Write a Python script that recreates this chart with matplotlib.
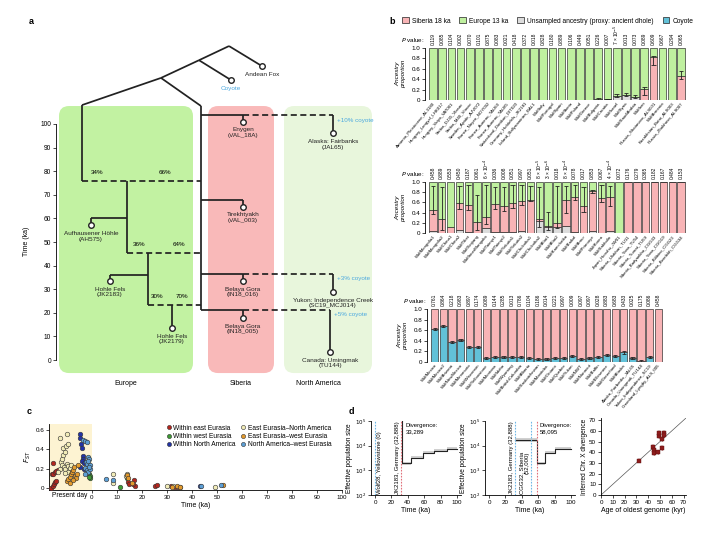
import matplotlib
matplotlib.use('Agg')
import matplotlib.pyplot as plt
import numpy as np
from matplotlib.patches import FancyBboxPatch, Patch
from matplotlib.lines import Line2D

plt.rcParams['font.family'] = ['Liberation Sans', 'DejaVu Sans']
plt.rcParams['font.size'] = 4.5
plt.rcParams['axes.linewidth'] = 0.6
plt.rcParams['xtick.major.width'] = 0.5
plt.rcParams['ytick.major.width'] = 0.5
plt.rcParams['xtick.major.size'] = 2
plt.rcParams['ytick.major.size'] = 2
plt.rcParams['xtick.major.pad'] = 1.5
plt.rcParams['ytick.major.pad'] = 1.5

W, H = 706, 534

GREEN = '#bff09f'
PINK = '#f8b4b6'
GREY = '#dcdcdc'
COY = '#62c1d8'
NA_BG = '#e8f6dc'
INK = '#222222'
BLUE_TXT = '#4aa8df'

# ---------------- panel a: tree ----------------
tip_labels = ['Andean Fox', 'Coyote', 'Aufhausener Höhle\n(AH575)', 'Hohle Fels\n(JK2183)',
              'Hohle Fels\n(JK2179)', 'Enygen\n(VAL_18A)', 'Tirekhtyakh\n(VAL_003)',
              'Belaya Gora\n(IN18_016)', 'Belaya Gora\n(IN18_005)', 'Alaska: Fairbanks\n(JAL65)',
              'Yukon: Independence Creek\n(SC19_MCJ014)', 'Canada: Umingmak\n(TU144)']
tip_x = [262, 231, 91, 110, 172, 243, 243, 243, 243, 333, 333, 330]
tip_t = [124.5, 118.6, 57, 33.5, 13.5, 101, 65, 33.5, 17.8, 96, 28.8, 3.4]

# internal nodes (column, time in ka)
root = (229, 133)
n_coy = (199, 127)
n_wolf = (161, 119.5)
n_eu = (82, 108)
n_sib = (201, 107.6)
eu_admix_t = [76, 45.3, 23.3]          # dashed admixture events into Europe
eu_admix_x = [82, 127, 148]
eu_split_t = [60, 36]                  # side branches to AH575 / JK2183
sib_branch_t = [104, 67.8, 36.4, 21.2]  # Siberian branch points
na_from = [0, 2, 3]                    # which Siberian branch goes to N. America
na_tip = [9, 10, 11]
admix_pct = [('34%', '66%'), ('36%', '64%'), ('30%', '70%')]
coyote_pct = ['+10% coyote', '+3% coyote', '+5% coyote']
region_names = ['Europe', 'Siberia', 'North America']
region_x = [(59, 193), (208, 274), (284, 372)]
region_col = ['#c2f2a2', '#f9b9b9', NA_BG]


def px_axes(l, t, r, b):
    return fig.add_axes([l / W, 1 - b / H, (r - l) / W, (b - t) / H])


fig = plt.figure(figsize=(W / 100, H / 100), dpi=100)

ax = px_axes(40, 30, 380, 395)
ax.set_xlim(40, 380)
ax.set_ylim(-14.8, 139.8)
for (x0, x1), col in zip(region_x, region_col):
    ax.add_patch(FancyBboxPatch((x0, -5.5), x1 - x0, 113.1,
                                boxstyle='round,pad=0,rounding_size=10',
                                mutation_aspect=1 / 2.36, fc=col, ec='none', zorder=0))
for name, (x0, x1) in zip(region_names, region_x):
    ax.text((x0 + x1) / 2 + (0 if name != 'North America' else -10), -10, name,
            ha='center', va='center', fontsize=5)


def seg(p0, p1, dashed=False):
    ax.plot([p0[0], p1[0]], [p0[1], p1[1]], color=INK, lw=1.25,
            ls=(0, (3.5, 2)) if dashed else '-', solid_capstyle='butt', zorder=3)


seg(root, (tip_x[0], tip_t[0]))
seg(root, n_coy)
seg(n_coy, (tip_x[1], tip_t[1]))
seg(n_coy, n_wolf)
seg(n_wolf, n_eu)
seg(n_wolf, n_sib)
# European backbone
seg(n_eu, (n_eu[0], eu_admix_t[0]))
seg((n_sib[0], n_sib[1]), (n_sib[0], sib_branch_t[-1]))
for i in range(3):
    seg((eu_admix_x[i], eu_admix_t[i]), (n_sib[0], eu_admix_t[i]), dashed=True)
    pa, pb = admix_pct[i]
    ax.text(eu_admix_x[i] + 15 - 3 * i, eu_admix_t[i] + 2.8, pa, ha='center', fontsize=4.5)
    ax.text((eu_admix_x[i] + n_sib[0]) / 2 + 23 - 8 * i, eu_admix_t[i] + 2.8, pb,
            ha='center', fontsize=4.5)
seg((eu_admix_x[1], eu_admix_t[0]), (eu_admix_x[1], eu_admix_t[1]))
seg((eu_admix_x[2], eu_admix_t[1]), (eu_admix_x[2], eu_admix_t[2]))
seg((172, eu_admix_t[2]), (tip_x[4], tip_t[4]))
for bt, side, tipi in zip(eu_split_t, [eu_admix_x[1], eu_admix_x[2]], [2, 3]):
    seg((side, bt), (tip_x[tipi], bt))
    seg((tip_x[tipi], bt), (tip_x[tipi], tip_t[tipi]))
# Siberian branches
sib_tips = [5, 6, 7, 8]
for bt, tipi in zip(sib_branch_t, sib_tips):
    seg((n_sib[0], bt), (tip_x[tipi], bt))
    seg((tip_x[tipi], bt), (tip_x[tipi], tip_t[tipi]))
for k, (bi, ti) in enumerate(zip(na_from, na_tip)):
    bt = sib_branch_t[bi]
    seg((tip_x[sib_tips[bi]], bt), (tip_x[ti], bt), dashed=True)
    seg((tip_x[ti], bt), (tip_x[ti], tip_t[ti]))
    ax.text(tip_x[ti] + 4, bt - 2.5 if k == 0 else bt - 2, coyote_pct[k], color=BLUE_TXT,
            fontsize=4.5, va='center', ha='left')

ax.plot(tip_x, tip_t, 'o', ms=4, mfc='white', mec=INK, mew=1.0, zorder=5)
for i, (lab, x, t) in enumerate(zip(tip_labels, tip_x, tip_t)):
    ax.text(x, t - 2.4, lab, ha='center', va='top', fontsize=4.6, linespacing=1.15,
            color=BLUE_TXT if lab == 'Coyote' else INK, zorder=6)

ax.spines['left'].set_position(('data', 56))
ax.spines['left'].set_bounds(0, 100)
for s in ['top', 'right', 'bottom']:
    ax.spines[s].set_visible(False)
ax.set_xticks([])
ax.set_yticks(range(0, 101, 10))
ax.tick_params(axis='y', labelsize=4.8)
ax.set_ylabel('Time (ka)', fontsize=5)
ax.yaxis.set_label_coords(-0.03, 0.42)
fig.text(29 / W, 1 - 22 / H, 'a', fontsize=6.5, fontweight='bold', va='center')

# ---------------- panel b: ancestry bars ----------------
b1_names = ['Armenia_Pleistocene_AL3180', 'Hungary_Lengyel_LHK017', 'Hungary_Vatya_VAT001',
            'Serbia_DJ35_Vlasac', 'Serbia_M40_Vlasac', 'Sweden_Ajvide_AJV072',
            'France_Noyen_NOY002', 'France_Auneau_TAU60', 'France_Auneau_TAU85',
            'Switzerland_Dietikon_DIT020', 'Germany_Hohlefels_JK2181', 'Ireland_Ballynamintra_BAL1',
            'WolfItaly', 'WolfPortugal', 'WolfSpain', 'WolfIberia', 'WolfPoland', 'WolfGreece',
            'WolfBulgaria', 'WolfCroatia', 'WolfIsrael', 'WolfSyria', 'WolfSaudiArabia', 'WolfIran',
            'Russia_Shatanovo_ALS001', 'WolfArmenia', 'Kazakhstan_Botai_ALS003',
            'Russia_Zhokhovo_ALS007']
b1_sib = [0] * 23 + [0.22, 0.82, 0, 0, 0.47]
b1_uns = [0] * 18 + [0.02, 0.01, 0.08, 0.10, 0.06, 0, 0, 0, 0, 0]
b1_lo = [np.nan] * 18 + [0.0, 0.0, 0.05, 0.07, 0.03, 0.10, 0.68, np.nan, np.nan, 0.40]
b1_hi = [np.nan] * 18 + [0.04, 0.02, 0.12, 0.14, 0.09, 0.25, 0.85, np.nan, np.nan, 0.56]
b1_p = ['0.119', '0.085', '0.104', '0.002', '0.070', '0.101', '0.875', '0.083', '0.021',
        '0.418', '0.372', '0.018', '0.828', '0.180', '0.889', '0.106', '0.449', '0.051',
        '0.226', '0.007', '7 × 10$^{-5}$', '0.013', '0.073', '0.089', '0.609', '0.667',
        '0.294', '0.065']

b2_names = ['WolfMongolia1', 'WolfMongolia2', 'WolfChina1', 'WolfChina2', 'WolfTibet',
            'WolfXinjiang', 'WolfInnerMongolia', 'WolfTaimyr1', 'WolfTaimyr2', 'WolfYakutia1',
            'WolfYakutia2', 'WolfChukotka1', 'WolfChukotka2', 'WolfAltai1', 'WolfAltai2',
            'WolfKamchatka', 'WolfBaikal', 'WolfAmur', 'WolfPrimorye', 'WolfKorea', 'WolfSakhalin',
            'Japan_Honshu_JW01', 'Siberia_Ulakhan_TU11', 'Siberia_Yana_TU54', 'Siberia_Tumat_TU59',
            'Siberia_Badyarikha_CGG33', 'Siberia_Yana_CGG19', 'Siberia_Bilibino_CGG23',
            'Siberia_Berelekh_CGG34']
b2_uns = [0.03, 0, 0, 0.05, 0.02, 0, 0.10, 0.01, 0.01, 0.02, 0.04, 0, 0.23, 0.12, 0.12,
          0.14, 0.02, 0, 0.04, 0, 0.04, 0, 0, 0, 0, 0, 0, 0, 0]
b2_sib = [0.42, 0.27, 0.11, 0.53, 0.53, 0.22, 0.22, 0.55, 0.51, 0.57, 0.58, 0.65, 0.04,
          0.01, 0.08, 0.50, 0.68, 0.52, 0.78, 0.68, 0.66, 0, 1, 1, 1, 1, 1, 1, 1]
b2_lo = [0.38, 0.05, np.nan, 0.48, 0.45, 0.05, 0.18, 0.47, 0.43, 0.50, 0.55, 0.62, 0.12,
         0.05, 0.10, 0.40, 0.64, 0.42, 0.78, 0.60, 0.52] + [np.nan] * 8
b2_hi = [0.92, 0.90, np.nan, 0.92, 0.95, 0.75, 0.95, 0.90, 0.90, 0.95, 0.95, 0.92, 0.90,
         0.42, 0.92, 0.92, 0.95, 0.90, 0.84, 0.95, 0.92] + [np.nan] * 8
b2_p = ['0.458', '0.889', '0.553', '0.450', '0.187', '0.061', '6 × 10$^{-4}$', '0.036',
        '0.008', '0.051', '0.997', '0.051', '8 × 10$^{-5}$', '3 × 10$^{-6}$', '0.018',
        '8 × 10$^{-4}$', '0.078', '0.017', '0.853', '0.067', '4 × 10$^{-4}$', '0.072',
        '0.176', '0.279', '0.365', '0.182', '0.167', '0.484', '0.153']

b3_names = ['WolfMexico', 'WolfMexico2', 'WolfArizona', 'WolfNewMexico', 'WolfMinnesota',
            'WolfWisconsin', 'WolfYellowstone', 'WolfMontana', 'WolfIdaho', 'WolfWyoming',
            'WolfBritishColumbia', 'WolfAlberta', 'WolfSaskatchewan', 'WolfManitoba',
            'WolfOntario', 'WolfQuebec', 'WolfYukon', 'WolfNWT', 'WolfNunavut', 'WolfBaffin',
            'WolfEllesmere', 'WolfGreenland', 'WolfAlaska', 'Alaska_Fairbanks_JAL65',
            'Canada_Umingmak_TU144', 'Yukon_Independence_SC19', 'Greenland_Lyngby_ALS_005']
b3_coy = [0.62, 0.68, 0.37, 0.42, 0.29, 0.28, 0.07, 0.09, 0.10, 0.10, 0.09, 0.07, 0.06,
          0.06, 0.08, 0.08, 0.11, 0.06, 0.08, 0.09, 0.13, 0.12, 0.18, 0.07, 0.01, 0.10, 0.0]
b3_p = ['0.761', '0.864', '0.218', '0.983', '0.897', '0.174', '0.089', '0.144', '0.285',
        '0.013', '0.786', '0.104', '0.186', '0.014', '0.221', '0.997', '0.009', '0.097',
        '0.097', '0.028', '0.883', '0.683', '0.433', '0.025', '0.175', '0.086', '0.458']


def bar_panel(ax, names, layers, rest_col, pvals, lo=None, hi=None, top=None):
    n = len(names)
    x = np.arange(n)
    bottom = np.zeros(n)
    for vals, col in layers:
        vals = np.asarray(vals, float)
        ax.bar(x, vals, bottom=bottom, width=0.84, color=col, edgecolor=INK, linewidth=0.45)
        bottom = bottom + vals
    ax.bar(x, 1 - bottom, bottom=bottom, width=0.84, color=rest_col, edgecolor=INK,
           linewidth=0.45)
    if lo is not None:
        lo = np.asarray(lo, float)
        hi = np.asarray(hi, float)
        ok = ~np.isnan(lo)
        ax.vlines(x[ok], lo[ok], hi[ok], color=INK, lw=0.6)
        ax.hlines(lo[ok], x[ok] - 0.25, x[ok] + 0.25, color=INK, lw=0.6)
        ax.hlines(hi[ok], x[ok] - 0.25, x[ok] + 0.25, color=INK, lw=0.6)
    for i, p in enumerate(pvals):
        ax.text(i, 1.06, p, rotation=90, ha='center', va='bottom', fontsize=3.5)
    ax.text(-0.9, 1.15, '$P$ value:', ha='right', va='center', fontsize=4.5)
    ax.set_xlim(-0.55, n - 0.45)
    ax.set_ylim(0, 1)
    ax.set_xticks(x)
    ax.set_xticklabels(names, rotation=50, ha='right', rotation_mode='anchor', fontsize=3.2)
    ax.tick_params(axis='x', length=0, pad=1)
    ax.set_yticks([0, 0.2, 0.4, 0.6, 0.8, 1.0])
    ax.set_yticklabels(['0', '0.2', '0.4', '0.6', '0.8', '1.0'], fontsize=4.3)
    ax.set_ylabel('Ancestry\nproportion', fontstyle='italic', fontsize=4.5, linespacing=1.1)
    ax.spines['left'].set_position(('outward', 2))
    for s in ['top', 'right', 'bottom']:
        ax.spines[s].set_visible(False)


ax1 = px_axes(428, 48, 686, 100)
bar_panel(ax1, b1_names, [(b1_uns, GREY), (b1_sib, PINK)], GREEN, b1_p,
          np.array(b1_lo), np.array(b1_hi))
ax2 = px_axes(428, 182, 686, 233)
bar_panel(ax2, b2_names, [(b2_uns, GREY), (b2_sib, PINK)], GREEN, b2_p,
          np.array(b2_lo), np.array(b2_hi))
ax3 = px_axes(430, 309, 663, 362)
coy_arr = np.array(b3_coy)
bar_panel(ax3, b3_names, [(b3_coy, COY)], PINK, b3_p,
          np.where(coy_arr > 0, coy_arr - 0.02, np.nan), np.where(coy_arr > 0, coy_arr + 0.02, np.nan))

leg_handles = [Patch(fc=PINK, ec=INK, lw=0.5, label='Siberia 18 ka'),
               Patch(fc=GREEN, ec=INK, lw=0.5, label='Europe 13 ka'),
               Patch(fc=GREY, ec=INK, lw=0.5, label='Unsampled ancestry (proxy: ancient dhole)'),
               Patch(fc=COY, ec=INK, lw=0.5, label='Coyote')]
fig.legend(handles=leg_handles, loc='center left', bbox_to_anchor=(402 / W, 1 - 21 / H),
           ncol=4, fontsize=4.8, frameon=False, handlelength=1.0, handleheight=1.0,
           columnspacing=1.3, handletextpad=0.5, borderpad=0, borderaxespad=0)
fig.text(389 / W, 1 - 22 / H, 'b', fontsize=6.5, fontweight='bold', va='center')

# ---------------- panel c: FST through time ----------------
c_groups = ['Within east Eurasia', 'Within west Eurasia', 'Within North America',
            'East Eurasia–North America', 'East Eurasia–west Eurasia', 'North America–west Eurasia']
c_face = ['#b3261e', '#3e9a33', '#2233a6', '#f2ecb8', '#e29a2e', '#5d9fd5']
c_x = [
    [-16.3, -15.8, -15.2, -14.8, -14.5, -16.0, -15.5, -15.0, -14.3, -13.8, -15.6,
     14.5, 14.8, 16.8, 17.0, 16.5, 25.0, 26.0, 31.5, 33.0, 34.5],
    [-1.2, -1.0, -0.9, -1.1, 11.0, 14.0],
    [-5.0, -4.7, -4.5, -4.2, -3.8, -3.5, -4.0, -3.2, -4.8, -3.4, 43.0],
    [-13.0, -10.0, -11.5, -10.5, -9.7, -12.5, -12.0, -11.8, -11.0, -12.8, -12.0, -11.3,
     -10.8, -10.2, -9.5, -9.0, -8.5, -13.5, -9.8, -11.0, 8.5, 8.5, 13.5, 13.8, 29.8, 32.3,
     35.0, 49.0],
    [-10.0, -9.5, -9.0, -8.7, -8.3, -8.0, -7.6, -7.2, -6.8, -6.5, -6.2, -5.8, -7.5,
     14.0, 14.2, 16.0, 32.0, 33.8, 35.3, 52.3],
    [-3.5, -2.8, -2.2, -1.5, -1.2, -2.5, -2.0, -1.0, -3.0, -2.2, -1.5, -0.8, -2.7, -1.8,
     -1.3, 5.6, 8.5, 43.5, 51.5],
]
c_y = [
    [0.0, 0.02, 0.04, 0.06, 0.07, 0.14, 0.15, 0.17, 0.18, 0.19, 0.26,
     0.06, 0.04, 0.08, 0.02, 0.04, 0.02, 0.03, 0.02, 0.01, 0.015],
    [0.14, 0.12, 0.10, 0.11, 0.01, 0.10],
    [0.56, 0.52, 0.45, 0.41, 0.33, 0.30, 0.28, 0.26, 0.22, 0.20, 0.02],
    [0.52, 0.56, 0.41, 0.43, 0.45, 0.27, 0.30, 0.34, 0.37, 0.20, 0.24, 0.22, 0.20, 0.25,
     0.23, 0.21, 0.24, 0.17, 0.17, 0.16, 0.15, 0.05, 0.12, 0.15, 0.02, 0.02, 0.015, 0.01],
    [0.07, 0.09, 0.05, 0.11, 0.14, 0.17, 0.19, 0.22, 0.12, 0.10, 0.15, 0.24, 0.08,
     0.13, 0.10, 0.05, 0.01, 0.02, 0.01, 0.03],
    [0.50, 0.49, 0.47, 0.32, 0.30, 0.27, 0.25, 0.24, 0.21, 0.19, 0.17, 0.20, 0.15, 0.28,
     0.22, 0.09, 0.08, 0.02, 0.03],
]

axc = px_axes(49, 424, 342, 490)
axc.set_xlim(-17.2, 100)
axc.set_ylim(-0.02, 0.66)
axc.axvspan(-17.2, 0, color='#fdf3d2', zorder=0, lw=0)
for xs, ys, fc in zip(c_x, c_y, c_face):
    axc.scatter(xs, ys, s=11, c=fc, edgecolors='#333333', linewidths=0.4, zorder=3)
axc.set_xticks(range(0, 101, 10))
axc.set_xticklabels([str(v) for v in range(0, 101, 10)], fontsize=4.5)
axc.set_yticks([0, 0.2, 0.4, 0.6])
axc.set_yticklabels(['0', '0.2', '0.4', '0.6'], fontsize=4.5)
axc.text(-9, -0.045, 'Present day', ha='center', va='top', fontsize=4.8)
axc.set_xlabel('Time (ka)', fontsize=5, labelpad=1.5)
axc.set_ylabel('$F_{ST}$', fontsize=5, labelpad=2)
for s in ['top', 'right']:
    axc.spines[s].set_visible(False)
c_handles = [Line2D([], [], ls='none', marker='o', ms=3, mfc=fc, mec='#333333', mew=0.4,
                    label=g) for g, fc in zip(c_groups, c_face)]
axc.legend(handles=c_handles, ncol=2, loc='upper left', bbox_to_anchor=(0.39, 1.04),
           fontsize=4.8, frameon=False, handlelength=0.6, handletextpad=0.4,
           columnspacing=0.8, labelspacing=0.2, borderpad=0)
fig.text(27 / W, 1 - 412 / H, 'c', fontsize=6.5, fontweight='bold', va='center')

# ---------------- panel d: Ne and divergence ----------------
d1_t = [32.9, 33.3, 44, 58, 72, 88, 100]
d1_ne = [2e5, 1900, 3300, 5200, 6300, 7600, 7600]
d1_samples = [(0, 'Wolf28, Yellowstone (0)', '#6fb7e6', 'right'),
              (32.0, 'JK2183, Germany (32,888)', '#e0707a', 'left')]
d1_div = ('Divergence:\n33,289', 37)

d2_t = [31.7, 58.6, 68, 80, 100]
d2_ne = [17000, 1900, 5200, 7600, 7000]
d2_samples = [(31.7, 'JK2183, Germany (32,888)', '#6fb7e6', 'left'),
              (51.6, 'CGG32, Siberia\n(52,000)', '#6fb7e6', 'left'),
              (58.6, '', '#e0707a', 'left')]
d2_div = ('Divergence:\n58,095', 62)

d3_age = [32, 44, 45, 45, 48, 49, 49, 52, 52, 53, 53]
d3_div = [32, 45, 42, 39, 40, 55, 58, 52, 44, 58, 56]


def ne_panel(ax, ts, nes, samples, div):
    ts = np.asarray(ts, float)
    nes = np.asarray(nes, float)
    ax.fill_between(ts, nes * 0.85, nes * 1.15, step='post', color='#d0d0d0', lw=0)
    ax.step(ts, nes, where='post', color=INK, lw=0.8)
    for xv, lab, col, side in samples:
        ax.axvline(xv, color=col, ls=(0, (1.5, 1.2)), lw=0.8)
        if lab:
            if side == 'right':
                ax.text(xv + 2, 1.15e2, lab, rotation=90, ha='left', va='bottom',
                        fontsize=4.3, linespacing=1.1)
            else:
                ax.text(xv - 1.5, 1.15e2, lab, rotation=90, ha='right', va='bottom',
                        fontsize=4.3, linespacing=1.1)
    ax.text(div[1], 8e4, div[0], ha='left', va='top', fontsize=4.3, linespacing=1.1)
    ax.set_yscale('log')
    ax.set_ylim(1e2, 1e5)
    ax.set_xlim(-5, 105)
    ax.set_yticks([1e2, 1e3, 1e4, 1e5])
    ax.set_yticklabels(['$10^{2}$', '$10^{3}$', '$10^{4}$', '$10^{5}$'], fontsize=4)
    ax.minorticks_off()
    ax.set_xticks(range(0, 101, 20))
    ax.set_xticklabels([str(v) for v in range(0, 101, 20)], fontsize=4.5)
    ax.set_xlabel('Time (ka)', fontsize=5, labelpad=1.5)
    ax.set_ylabel('Effective population size', fontsize=4.7, labelpad=1)
    for s in ['top', 'right']:
        ax.spines[s].set_visible(False)


axd1 = px_axes(371, 421, 461, 495)
ne_panel(axd1, d1_t, d1_ne, d1_samples, d1_div)
axd2 = px_axes(485, 421, 575, 495)
ne_panel(axd2, d2_t, d2_ne, d2_samples, d2_div)

axd3 = px_axes(601, 418, 686, 495)
axd3.plot([0, 72], [0, 72], color='#555555', lw=0.5)
axd3.errorbar(d3_age, d3_div, yerr=1.5, fmt='s', ms=2.6, mfc='#8e1c1c', mec='#5a0f0f',
              mew=0.3, ecolor='#8e1c1c', elinewidth=0.5, capsize=0.8)
axd3.set_xlim(0, 72)
axd3.set_ylim(0, 72)
axd3.set_xticks(range(0, 71, 10))
axd3.set_xticklabels([str(v) for v in range(0, 71, 10)], fontsize=4.5)
axd3.set_yticks(range(0, 71, 10))
axd3.set_yticklabels([str(v) for v in range(0, 71, 10)], fontsize=4.5)
axd3.set_xlabel('Age of oldest genome (kyr)', fontsize=5, labelpad=1.5)
axd3.set_ylabel('Inferred Chr. X divergence', fontsize=4.7, labelpad=1)
for s in ['top', 'right']:
    axd3.spines[s].set_visible(False)
fig.text(349 / W, 1 - 411 / H, 'd', fontsize=6.5, fontweight='bold', va='center')

fig.savefig('out.png', dpi=100)
